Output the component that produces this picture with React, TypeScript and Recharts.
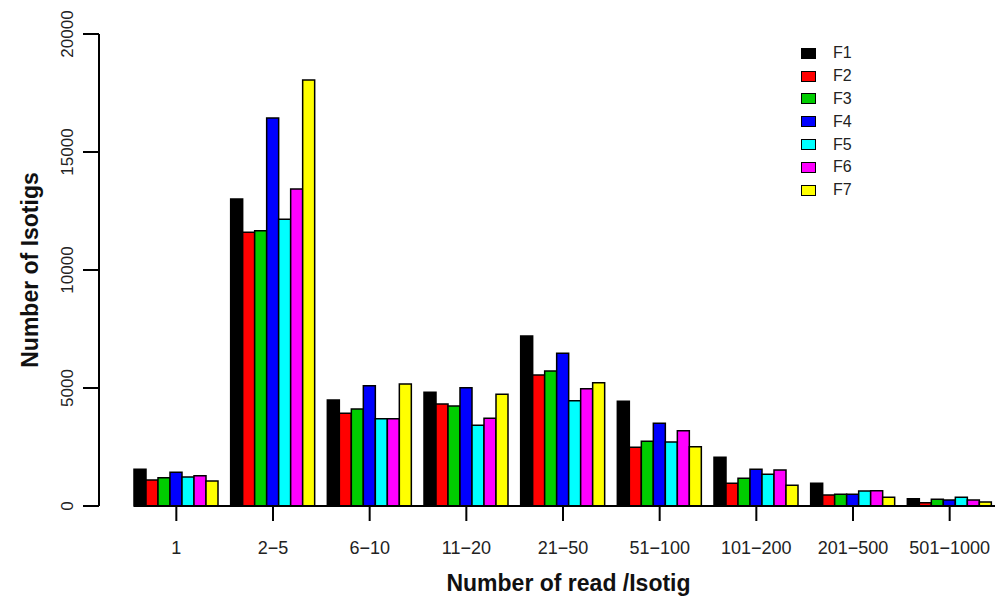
import { BarChart, Bar, XAxis, YAxis, ReferenceLine } from "recharts";

const CATEGORIES = ["1", "2−5", "6−10", "11−20", "21−50", "51−100", "101−200", "201−500", "501−1000"];
const SERIES = ["F1", "F2", "F3", "F4", "F5", "F6", "F7"];
const COLORS = ["#000000", "#FF0000", "#00CD00", "#0000FF", "#00FFFF", "#FF00FF", "#FFFF00"];

const F1 = [1555, 13008, 4491, 4816, 7203, 4435, 2062, 960, 310];
const F2 = [1100, 11597, 3927, 4322, 5551, 2486, 960, 466, 140];
const F3 = [1200, 11666, 4110, 4237, 5720, 2740, 1172, 496, 284];
const F4 = [1428, 16440, 5098, 5013, 6469, 3502, 1554, 496, 254];
const F5 = [1229, 12148, 3700, 3419, 4463, 2712, 1342, 636, 367];
const F6 = [1284, 13432, 3700, 3715, 4972, 3192, 1525, 650, 254];
const F7 = [1059, 18050, 5169, 4732, 5226, 2514, 876, 367, 170];
const VALUES = [F1, F2, F3, F4, F5, F6, F7];

const Y_TICKS = [0, 5000, 10000, 15000, 20000];

const FONT = "'Liberation Sans', Arial, Helvetica, sans-serif";

const data = CATEGORIES.map((cat, i) => {
  const row: Record<string, string | number> = { cat };
  SERIES.forEach((s, j) => (row[s] = VALUES[j][i]));
  return row;
});

function XTick(props: any) {
  const { x, y, payload } = props;
  return (
    <text x={x} y={y + 31} textAnchor="middle" fontSize={18} fill="#222" fontFamily={FONT}>
      {payload.value}
    </text>
  );
}

function YTick(props: any) {
  const { x, y, payload } = props;
  const tx = x - 10;
  return (
    <text
      x={tx}
      y={y}
      transform={`rotate(-90, ${tx}, ${y})`}
      textAnchor="middle"
      fontSize={17}
      fill="#222"
      fontFamily={FONT}
    >
      {payload.value}
    </text>
  );
}

// legend kept out of the chart so it doesn't eat plot space
function SeriesLegend() {
  return (
    <div style={{ position: "absolute", left: 801, top: 42, fontFamily: FONT }}>
      {SERIES.map((s, j) => (
        <div key={s} style={{ height: 22.8, display: "flex", alignItems: "center" }}>
          <span
            style={{
              display: "inline-block",
              width: 13,
              height: 9,
              background: COLORS[j],
              border: "1.5px solid #000",
              marginRight: 17,
            }}
          />
          <span style={{ fontSize: 16, color: "#222" }}>{s}</span>
        </div>
      ))}
    </div>
  );
}

export default function App() {
  return (
    <div style={{ position: "absolute", left: 0, top: 0, width: 995, height: 596, overflow: "hidden", background: "#fff" }}>
      <BarChart
        width={1000}
        height={596}
        data={data}
        margin={{ top: 34, right: 2, bottom: 0, left: 0 }}
        barGap={0}
        barCategoryGap={6}
      >
        <XAxis
          dataKey="cat"
          height={90}
          padding={{ left: 29, right: 0 }}
          axisLine={false}
          tickLine={{ stroke: "#000", strokeWidth: 2 }}
          tickSize={15}
          tick={<XTick />}
          interval={0}
          label={{
            content: (p: any) => {
              const vb = p.viewBox;
              return (
                <text
                  x={vb.x + vb.width / 2 + 20}
                  y={vb.y + 85}
                  textAnchor="middle"
                  fontSize={23}
                  fontWeight="bold"
                  fill="#111"
                  fontFamily={FONT}
                >
                  Number of read /Isotig
                </text>
              );
            },
          }}
        />
        <YAxis
          width={99}
          domain={[0, 20000]}
          ticks={Y_TICKS}
          axisLine={{ stroke: "#000", strokeWidth: 2 }}
          tickLine={{ stroke: "#000", strokeWidth: 2 }}
          tickSize={16}
          tickMargin={0}
          tick={<YTick />}
          label={{
            content: (p: any) => {
              const vb = p.viewBox;
              const lx = vb.x + 38;
              const ly = vb.y + vb.height / 2;
              return (
                <text
                  x={lx}
                  y={ly}
                  transform={`rotate(-90, ${lx}, ${ly})`}
                  textAnchor="middle"
                  fontSize={23}
                  fontWeight="bold"
                  fill="#111"
                  fontFamily={FONT}
                >
                  Number of Isotigs
                </text>
              );
            },
          }}
        />
        {SERIES.map((s, j) => (
          <Bar
            key={s}
            dataKey={s}
            fill={COLORS[j]}
            stroke="#000"
            strokeWidth={1.5}
            isAnimationActive={false}
          />
        ))}
        <ReferenceLine
          y={0}
          shape={(p: any) => (
            <line x1={p.x1 + 35} y1={p.y1} x2={p.x2} y2={p.y2} stroke="#000" strokeWidth={2} />
          )}
        />
      </BarChart>
      <SeriesLegend />
    </div>
  );
}
